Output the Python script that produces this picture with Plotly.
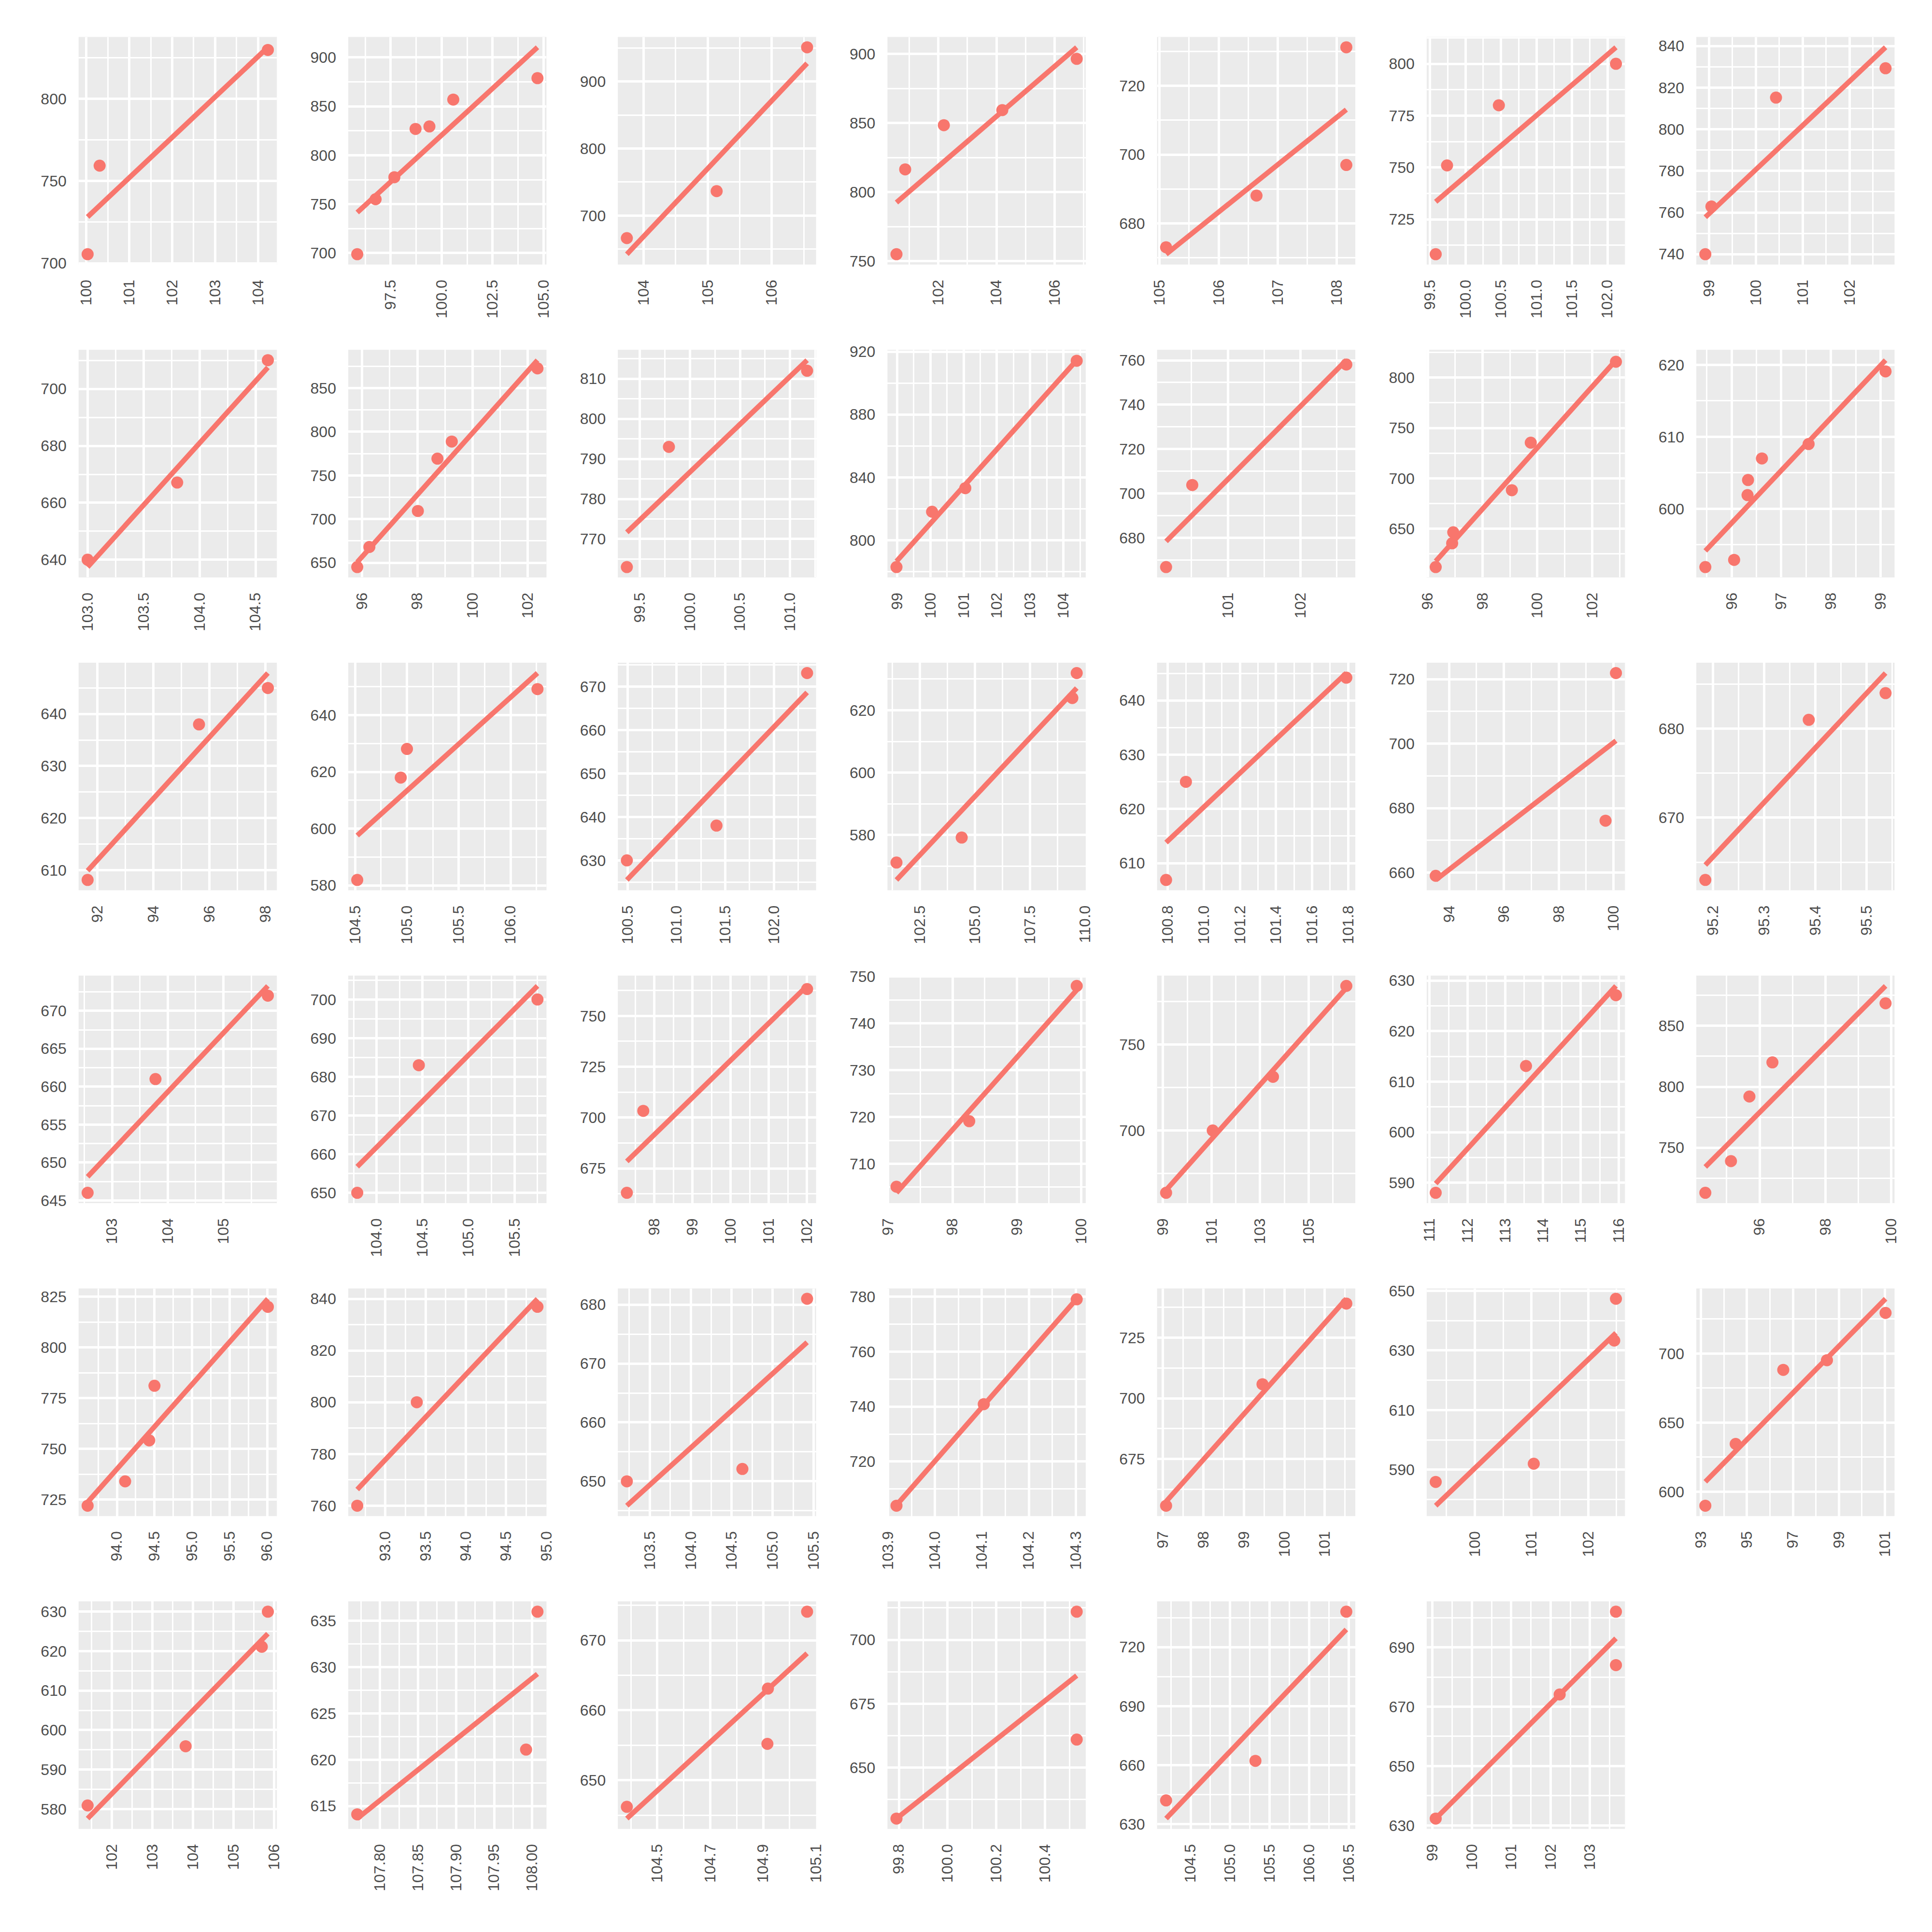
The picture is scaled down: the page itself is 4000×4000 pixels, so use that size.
import numpy as np
import plotly.graph_objects as go

# ---------------- data (one block per panel) ----------------
px1 = [100.03, 100.31, 104.23]; py1 = [705.5, 759.3, 829.6]
xt1 = ["100", "101", "102", "103", "104"]; yt1 = ["700", "750", "800"]

px2 = [95.86, 96.76, 97.68, 98.72, 99.40, 100.57, 104.70]; py2 = [698.8, 755.0, 777.5, 826.9, 829.4, 856.9, 878.8]
xt2 = ["97.5", "100.0", "102.5", "105.0"]; yt2 = ["700", "750", "800", "850", "900"]

px3 = [103.74, 105.14, 106.55]; py3 = [666.4, 736.4, 950.9]
xt3 = ["104", "105", "106"]; yt3 = ["700", "800", "900"]

px4 = [100.56, 100.86, 102.19, 104.20, 106.76]; py4 = [755.0, 816.4, 848.4, 859.3, 896.4]
xt4 = ["102", "104", "106"]; yt4 = ["750", "800", "850", "900"]

px5 = [105.11, 106.64, 108.16, 108.16]; py5 = [673.1, 688.1, 731.2, 697.0]
xt5 = ["105", "106", "107", "108"]; yt5 = ["680", "700", "720"]

px6 = [99.58, 99.74, 100.47, 102.12]; py6 = [708.2, 751.0, 780.0, 800.0]
xt6 = ["99.5", "100.0", "100.5", "101.0", "101.5", "102.0"]; yt6 = ["725", "750", "775", "800"]

px7 = [98.92, 99.05, 100.43, 102.77]; py7 = [740.0, 762.9, 815.2, 829.3]
xt7 = ["99", "100", "101", "102"]; yt7 = ["740", "760", "780", "800", "820", "840"]

px8 = [103.00, 103.80, 104.61]; py8 = [640.0, 667.1, 710.1]
xt8 = ["103.0", "103.5", "104.0", "104.5"]; yt8 = ["640", "660", "680", "700"]

px9 = [95.82, 96.26, 98.02, 98.73, 99.25, 102.36]; py9 = [645.1, 668.1, 709.3, 769.2, 788.8, 872.5]
xt9 = ["96", "98", "100", "102"]; yt9 = ["650", "700", "750", "800", "850"]

px10 = [99.37, 99.79, 101.17]; py10 = [763.0, 793.0, 812.0]
xt10 = ["99.5", "100.0", "100.5", "101.0"]; yt10 = ["770", "780", "790", "800", "810"]

px11 = [98.98, 100.05, 101.05, 104.40]; py11 = [783.0, 818.2, 833.2, 914.2]
xt11 = ["99", "100", "101", "102", "103", "104"]; yt11 = ["800", "840", "880", "920"]

px12 = [100.15, 100.51, 102.63]; py12 = [666.8, 703.8, 758.1]
xt12 = ["101", "102"]; yt12 = ["680", "700", "720", "740", "760"]

px13 = [96.29, 96.89, 96.93, 99.07, 99.76, 102.87]; py13 = [611.9, 635.5, 646.4, 688.2, 735.4, 815.7]
xt13 = ["96", "98", "100", "102"]; yt13 = ["650", "700", "750", "800"]

px14 = [95.47, 96.05, 96.32, 96.33, 96.61, 97.55, 99.10]; py14 = [591.9, 592.9, 601.9, 604.0, 607.0, 609.0, 619.1]
xt14 = ["96", "97", "98", "99"]; yt14 = ["600", "610", "620"]

px15 = [91.65, 95.63, 98.09]; py15 = [608.1, 638.0, 645.0]
xt15 = ["92", "94", "96", "98"]; yt15 = ["610", "620", "630", "640"]

px16 = [104.52, 104.94, 105.00, 106.26]; py16 = [581.9, 618.0, 628.1, 649.2]
xt16 = ["104.5", "105.0", "105.5", "106.0"]; yt16 = ["580", "600", "620", "640"]

px17 = [100.49, 101.41, 102.34]; py17 = [630.0, 638.0, 673.1]
xt17 = ["100.5", "101.0", "101.5", "102.0"]; yt17 = ["630", "640", "650", "660", "670"]

px18 = [101.43, 104.39, 109.41, 109.61]; py18 = [571.2, 579.2, 623.9, 631.9]
xt18 = ["102.5", "105.0", "107.5", "110.0"]; yt18 = ["580", "600", "620"]

px19 = [100.79, 100.90, 101.79]; py19 = [606.9, 625.0, 644.2]
xt19 = ["100.8", "101.0", "101.2", "101.4", "101.6", "101.8"]; yt19 = ["610", "620", "630", "640"]

px20 = [93.51, 99.71, 100.09]; py20 = [659.0, 676.1, 721.9]
xt20 = ["94", "96", "98", "100"]; yt20 = ["660", "680", "700", "720"]

px21 = [95.185, 95.387, 95.537]; py21 = [663.0, 681.0, 684.0]
xt21 = ["95.2", "95.3", "95.4", "95.5"]; yt21 = ["670", "680"]

px22 = [102.56, 103.78, 105.80]; py22 = [646.0, 661.0, 672.0]
xt22 = ["103", "104", "105"]; yt22 = ["645", "650", "655", "660", "665", "670"]

px23 = [103.79, 104.46, 105.75]; py23 = [650.0, 683.0, 700.0]
xt23 = ["104.0", "104.5", "105.0", "105.5"]; yt23 = ["650", "660", "670", "680", "690", "700"]

px24 = [97.28, 97.71, 102.00]; py24 = [663.0, 703.3, 763.2]
xt24 = ["98", "99", "100", "101", "102"]; yt24 = ["675", "700", "725", "750"]

px25 = [97.13, 98.26, 99.93]; py25 = [705.1, 719.1, 748.0]
xt25 = ["97", "98", "99", "100"]; yt25 = ["710", "720", "730", "740", "750"]

px26 = [99.13, 101.05, 103.53, 106.55]; py26 = [663.8, 700.0, 731.2, 784.0]
xt26 = ["99", "101", "103", "105"]; yt26 = ["700", "750"]

px27 = [111.16, 113.55, 115.93]; py27 = [588.0, 613.1, 627.1]
xt27 = ["111", "112", "113", "114", "115", "116"]; yt27 = ["590", "600", "610", "620", "630"]

px28 = [94.35, 95.13, 95.69, 96.39, 99.83]; py28 = [713.0, 739.0, 792.0, 820.0, 868.5]
xt28 = ["96", "98", "100"]; yt28 = ["750", "800", "850"]

px29 = [93.61, 94.11, 94.43, 94.50, 96.01]; py29 = [722.0, 734.0, 754.2, 781.1, 820.0]
xt29 = ["94.0", "94.5", "95.0", "95.5", "96.0"]; yt29 = ["725", "750", "775", "800", "825"]

px30 = [92.65, 93.39, 94.89]; py30 = [760.0, 800.0, 836.9]
xt30 = ["93.0", "93.5", "94.0", "94.5", "95.0"]; yt30 = ["760", "780", "800", "820", "840"]

px31 = [103.22, 104.63, 105.42]; py31 = [650.0, 652.1, 681.0]
xt31 = ["103.5", "104.0", "104.5", "105.0", "105.5"]; yt31 = ["650", "660", "670", "680"]

px32 = [103.918, 104.104, 104.302]; py32 = [703.9, 740.9, 779.1]
xt32 = ["103.9", "104.0", "104.1", "104.2", "104.3"]; yt32 = ["720", "740", "760", "780"]

px33 = [97.08, 99.46, 101.53]; py33 = [655.8, 705.8, 739.0]
xt33 = ["97", "98", "99", "100", "101"]; yt33 = ["675", "700", "725"]

px34 = [99.31, 101.04, 102.46, 102.49]; py34 = [585.9, 592.0, 633.3, 647.3]
xt34 = ["100", "101", "102"]; yt34 = ["590", "610", "630", "650"]

px35 = [93.19, 94.51, 96.58, 98.48, 101.03]; py35 = [589.9, 634.6, 688.2, 695.2, 729.4]
xt35 = ["93", "95", "97", "99", "101"]; yt35 = ["600", "650", "700"]

px36 = [101.40, 103.82, 105.70, 105.85]; py36 = [580.9, 595.9, 621.1, 630.0]
xt36 = ["102", "103", "104", "105", "106"]; yt36 = ["580", "590", "600", "610", "620", "630"]

px37 = [107.770, 107.992, 108.007]; py37 = [614.1, 621.1, 636.0]
xt37 = ["107.80", "107.85", "107.90", "107.95", "108.00"]; yt37 = ["615", "620", "625", "630", "635"]

px38 = [104.385, 104.918, 104.916, 105.066]; py38 = [646.2, 663.1, 655.2, 674.1]
xt38 = ["104.5", "104.7", "104.9", "105.1"]; yt38 = ["650", "660", "670"]

px39 = [99.79, 100.53, 100.53]; py39 = [630.1, 711.0, 661.0]
xt39 = ["99.8", "100.0", "100.2", "100.4"]; yt39 = ["650", "675", "700"]

px40 = [104.19, 105.32, 106.47]; py40 = [642.1, 662.2, 738.0]
xt40 = ["104.5", "105.0", "105.5", "106.0", "106.5"]; yt40 = ["630", "660", "690", "720"]

px41 = [99.08, 102.23, 103.66, 103.66]; py41 = [632.3, 674.1, 684.0, 702.0]
xt41 = ["99", "100", "101", "102", "103"]; yt41 = ["630", "650", "670", "690"]

panels = [
    (px1, py1, xt1, yt1), (px2, py2, xt2, yt2), (px3, py3, xt3, yt3), (px4, py4, xt4, yt4),
    (px5, py5, xt5, yt5), (px6, py6, xt6, yt6), (px7, py7, xt7, yt7), (px8, py8, xt8, yt8),
    (px9, py9, xt9, yt9), (px10, py10, xt10, yt10), (px11, py11, xt11, yt11), (px12, py12, xt12, yt12),
    (px13, py13, xt13, yt13), (px14, py14, xt14, yt14), (px15, py15, xt15, yt15), (px16, py16, xt16, yt16),
    (px17, py17, xt17, yt17), (px18, py18, xt18, yt18), (px19, py19, xt19, yt19), (px20, py20, xt20, yt20),
    (px21, py21, xt21, yt21), (px22, py22, xt22, yt22), (px23, py23, xt23, yt23), (px24, py24, xt24, yt24),
    (px25, py25, xt25, yt25), (px26, py26, xt26, yt26), (px27, py27, xt27, yt27), (px28, py28, xt28, yt28),
    (px29, py29, xt29, yt29), (px30, py30, xt30, yt30), (px31, py31, xt31, yt31), (px32, py32, xt32, yt32),
    (px33, py33, xt33, yt33), (px34, py34, xt34, yt34), (px35, py35, xt35, yt35), (px36, py36, xt36, yt36),
    (px37, py37, xt37, yt37), (px38, py38, xt38, yt38), (px39, py39, xt39, yt39), (px40, py40, xt40, yt40),
    (px41, py41, xt41, yt41),
]

# ---------------- styling / layout ----------------
W = H = 4000
RED = "#F8766D"
PANEL_BG = "#EBEBEB"
TEXT = "#4D4D4D"
FONT = "Liberation Sans, Arial, Helvetica, sans-serif"
LEFT0, PITCH_X, PW = 147, 563, 414
TOP0, PITCH_Y, PH = 61, 653, 475
NCOL = 7


def expand(vals):
    lo, hi = float(np.min(vals)), float(np.max(vals))
    span = hi - lo if hi > lo else 1.0
    return [lo - 0.05 * span, hi + 0.05 * span]


def minor_breaks(major, rng):
    step = major[1] - major[0]
    cands = [m - step / 2 for m in major] + [major[-1] + step / 2]
    return [c for c in cands if rng[0] <= c <= rng[1]]


fig = go.Figure()
layout = dict(
    width=W, height=H,
    margin=dict(l=0, r=0, t=0, b=0),
    paper_bgcolor="white",
    plot_bgcolor=PANEL_BG,
    showlegend=False,
    font=dict(family=FONT, size=32, color=TEXT),
)

for i, (xs, ys, xt, yt) in enumerate(panels):
    r, c = divmod(i, NCOL)
    k = i + 1
    xname = "x" if k == 1 else f"x{k}"
    yname = "y" if k == 1 else f"y{k}"
    xs = np.asarray(xs, float)
    ys = np.asarray(ys, float)
    slope, icpt = np.polyfit(xs, ys, 1)
    lx = np.array([xs.min(), xs.max()])
    ly = icpt + slope * lx

    xr = expand(xs)
    yr = expand(np.concatenate([ys, ly]))
    xv = [float(t) for t in xt]
    yv = [float(t) for t in yt]

    fig.add_trace(go.Scatter(x=xs, y=ys, mode="markers", xaxis=xname, yaxis=yname,
                             marker=dict(color=RED, size=25, line=dict(width=0)),
                             hoverinfo="skip"))
    fig.add_trace(go.Scatter(x=lx, y=ly, mode="lines", xaxis=xname, yaxis=yname,
                             line=dict(color=RED, width=10.5), hoverinfo="skip"))

    left = LEFT0 + c * PITCH_X
    top = TOP0 + r * PITCH_Y
    xdom = [left / W, (left + PW) / W]
    ydom = [1 - (top + PH) / H, 1 - top / H]

    common = dict(showgrid=True, gridcolor="white", gridwidth=5, zeroline=False,
                  showline=False, ticks="", tickfont=dict(family=FONT, size=32, color=TEXT),
                  tickmode="array", fixedrange=True, ticklabelstandoff=24)
    layout["xaxis" if k == 1 else f"xaxis{k}"] = dict(
        common, domain=xdom, anchor=yname, range=xr, tickvals=xv, ticktext=xt, tickangle=-90,
        minor=dict(tickmode="array", tickvals=minor_breaks(xv, xr), showgrid=True,
                   gridcolor="white", gridwidth=2.5, ticks=""),
    )
    layout["yaxis" if k == 1 else f"yaxis{k}"] = dict(
        common, domain=ydom, anchor=xname, range=yr, tickvals=yv, ticktext=yt,
        minor=dict(tickmode="array", tickvals=minor_breaks(yv, yr), showgrid=True,
                   gridcolor="white", gridwidth=2.5, ticks=""),
    )

fig.update_layout(**layout)
fig.write_html("out.html")
